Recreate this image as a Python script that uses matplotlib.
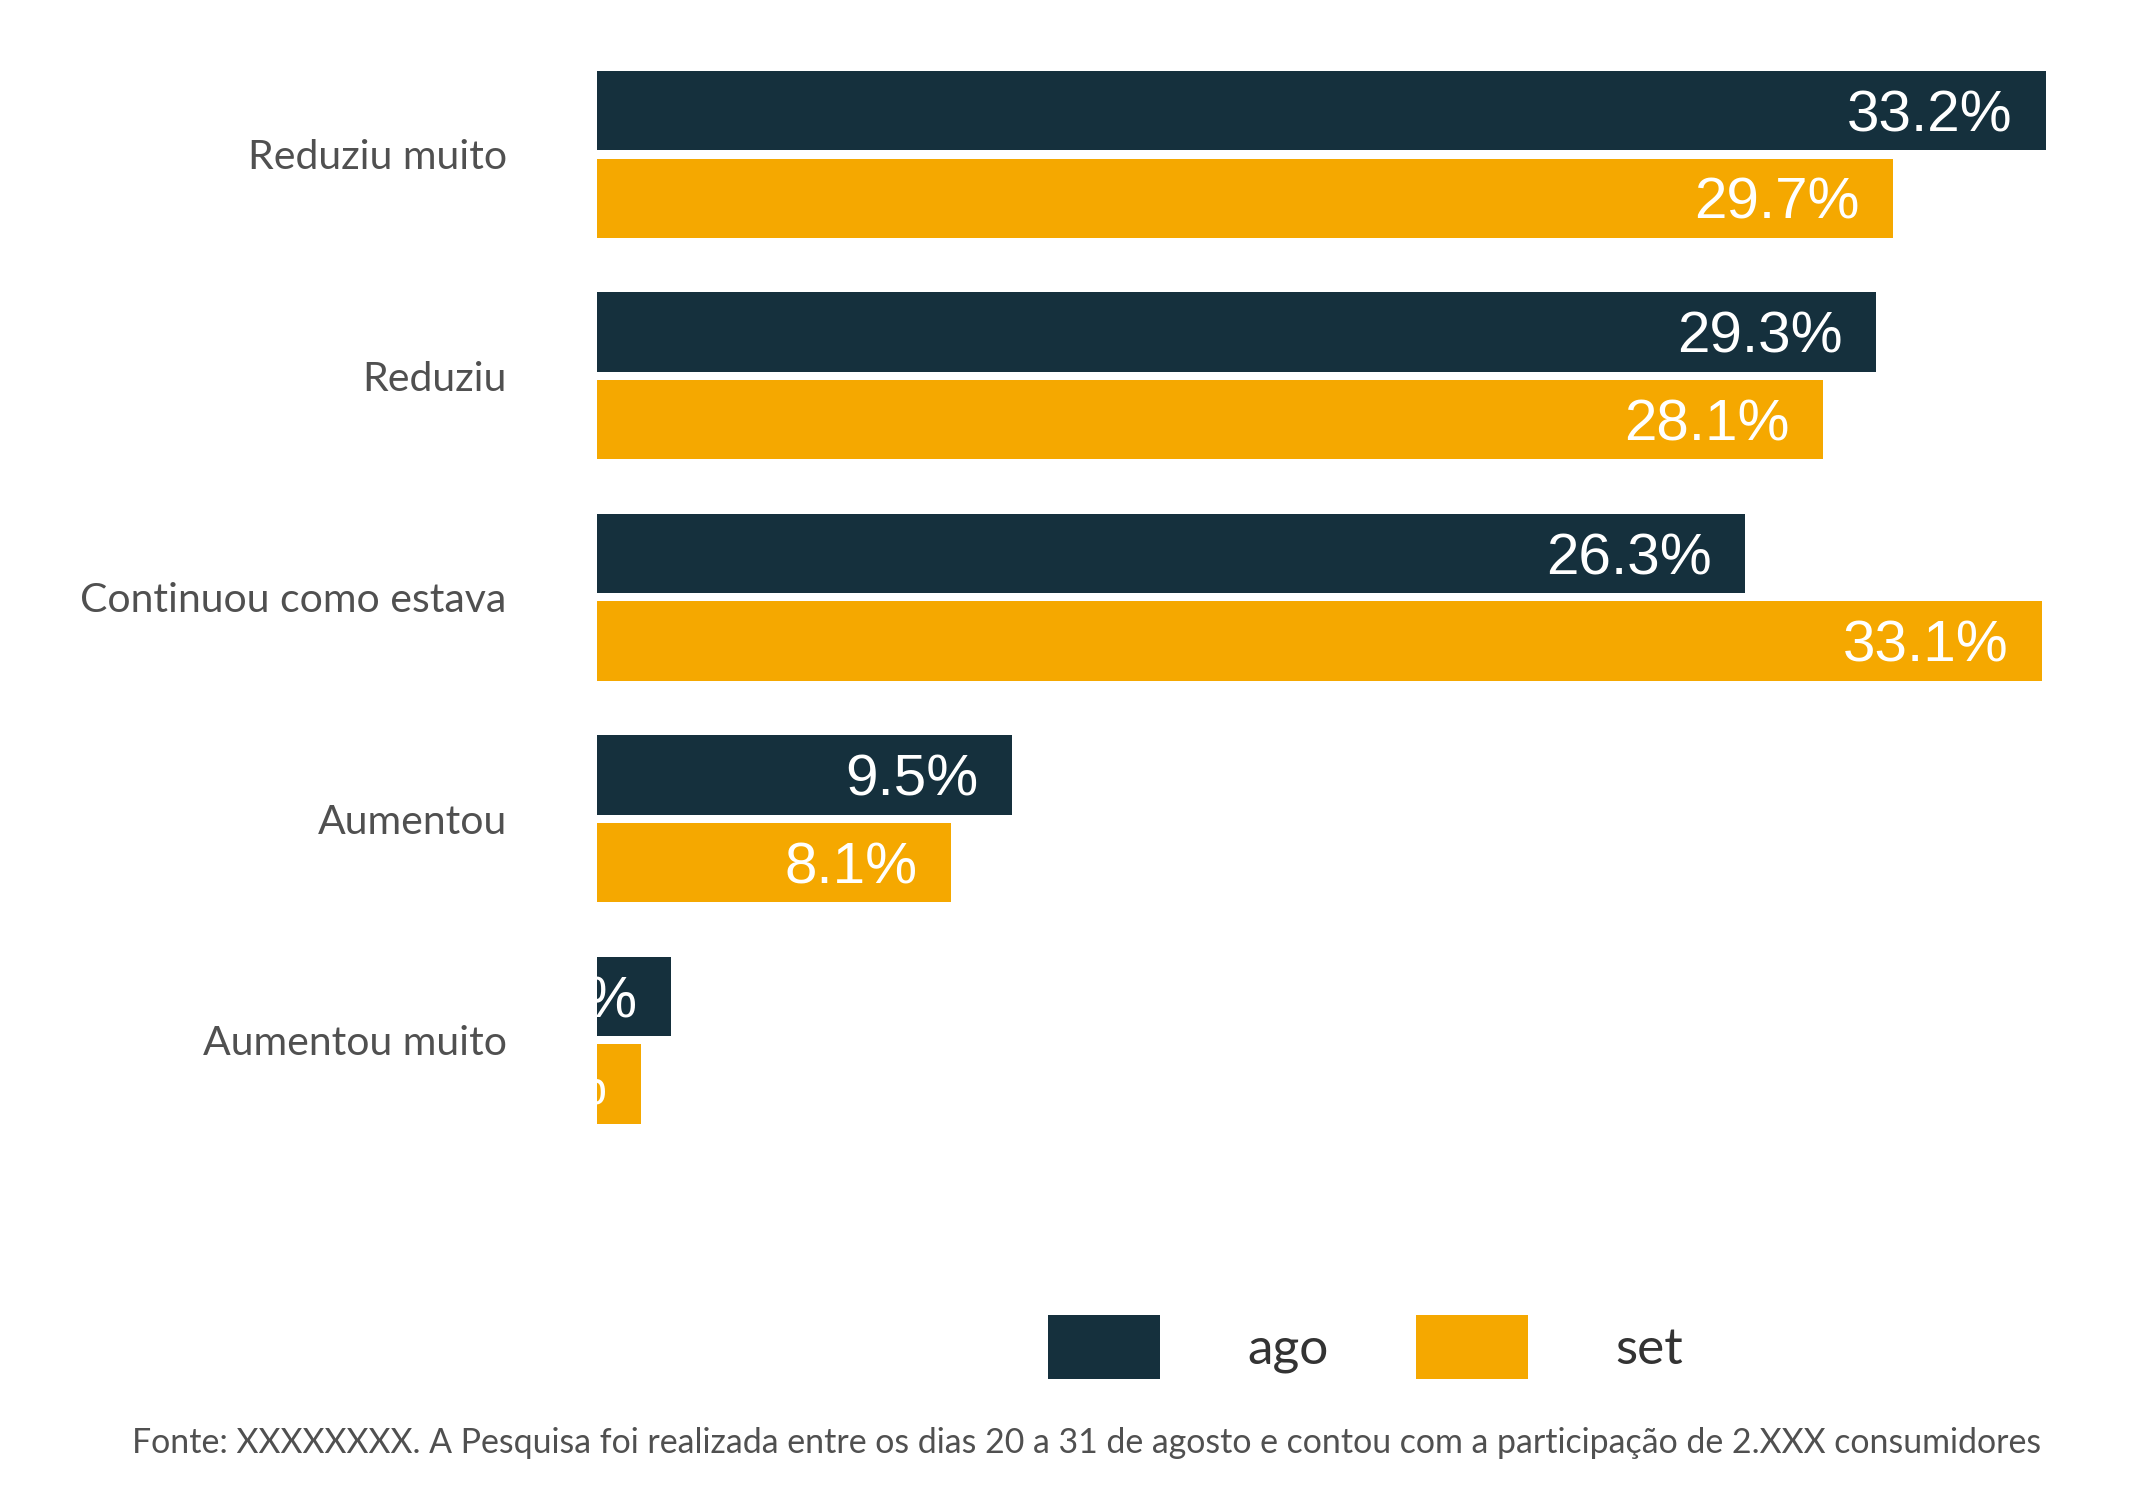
import matplotlib
matplotlib.use("Agg")
import matplotlib.pyplot as plt
from matplotlib.patches import Patch
import numpy as np

categories = ["Reduziu muito", "Reduziu", "Continuou como estava", "Aumentou", "Aumentou muito"]
series_names = ["ago", "set"]
ago_values = [33.2, 29.3, 26.3, 9.5, 1.7]
set_values = [29.7, 28.1, 33.1, 8.1, 1.0]
colors = ["#15303d", "#f5a800"]
caption = ("Fonte: XXXXXXXX. A Pesquisa foi realizada entre os dias 20 a 31 de agosto e "
           "contou com a participação de 2.XXX consumidores")

W, H = 2143, 1485
fig = plt.figure(figsize=(W / 100, H / 100), dpi=100)
left = 597 / W
right = 0.971
ax = fig.add_axes([left, 0.21, right - left, 0.9855 - 0.21])

y = np.arange(len(categories))
off = 0.1975
h = 0.358
for vals, dy, col in [(ago_values, -off, colors[0]), (set_values, off, colors[1])]:
    ax.barh(y + dy, vals, height=h, color=col, linewidth=0)
    for yi, v in zip(y, vals):
        ax.annotate(f"{v:.1f}%", xy=(v, yi + dy), xytext=(-24, -4), textcoords="offset points",
                    ha="right", va="center", color="white", fontsize=42,
                    family="Liberation Sans", clip_on=True, annotation_clip=False)

ax.set_xlim(0, 34)
ax.set_ylim(len(categories) - 0.4, -0.6)
ax.set_yticks(y)
ax.set_yticklabels(categories, family="Lato", fontsize=29.5, color="#505050")
ax.tick_params(axis="y", length=0, pad=65)
ax.set_xticks([])
for s in ax.spines.values():
    s.set_visible(False)

handles = [Patch(facecolor=c, edgecolor="none") for c in colors]
fig.legend(handles, series_names, loc="center", bbox_to_anchor=(999 * 1.3667 / W, 1 - 1347 / H),
           ncol=2, frameon=False, prop={"family": "Lato", "size": 37},
           handlelength=2.18, handleheight=1.54, handletextpad=1.7, columnspacing=1.7,
           labelcolor="#333333")

fig.text(1087 / W, 1 - 1443 / H, caption, ha="center", va="center", family="Lato",
         fontsize=24.4, color="#505050")

fig.savefig("out.png", dpi=100, facecolor="white")
